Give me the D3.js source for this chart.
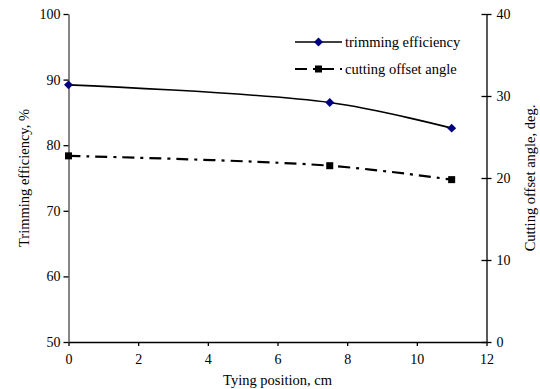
<!DOCTYPE html>
<html>
<head>
<meta charset="utf-8">
<script src="https://cdn.jsdelivr.net/npm/d3@7"></script>
<style>
  body { margin: 0; background: #fff; }
  svg text { font-family: "Liberation Serif", "Times New Roman", serif; fill: #000; }
</style>
</head>
<body>
<div id="container"></div>
<script>
// data
const positions = [0, 7.5, 11]
const trimEff = [89.2, 86.5, 82.6]
const offsetAngle = [22.7, 21.5, 19.8]
const xTicks = [0, 2, 4, 6, 8, 10, 12]
const leftTicks = [50, 60, 70, 80, 90, 100]
const rightTicks = [0, 10, 20, 30, 40]
const seriesNames = ['trimming efficiency', 'cutting offset angle']

const width = 540, height = 389
const plot = { left: 68.5, right: 486.5, top: 14, bottom: 342 }

const svg = d3.select('#container').append('svg')
  .attr('width', width)
  .attr('height', height)

const x = d3.scaleLinear().domain([0, 12]).range([plot.left, plot.right])
const yL = d3.scaleLinear().domain([50, 100]).range([plot.bottom, plot.top])
const yR = d3.scaleLinear().domain([0, 40]).range([plot.bottom, plot.top])

// axes
const axX = svg.append('g')
  .attr('transform', `translate(0 ${plot.bottom})`)
  .call(d3.axisBottom(x).tickValues(xTicks).tickSize(4).tickPadding(8).tickSizeOuter(0))
const axL = svg.append('g')
  .attr('transform', `translate(${plot.left} 0)`)
  .call(d3.axisLeft(yL).tickValues(leftTicks).tickSize(5).tickPadding(3).tickSizeOuter(0))
const axR = svg.append('g')
  .attr('transform', `translate(${plot.right} 0)`)
  .call(d3.axisRight(yR).tickValues(rightTicks).tickSize(5).tickPadding(5).tickSizeOuter(0))

axR.selectAll('.tick line').attr('x1', -5)

;[axX, axL, axR].forEach(a => {
  a.attr('font-family', null).attr('font-size', null)
  a.select('.domain').attr('stroke', '#000').attr('stroke-width', 1.3)
  a.selectAll('.tick line').attr('stroke', '#000').attr('stroke-width', 1.3)
  a.selectAll('.tick text')
    .style('font-size', '14px')
    .attr('fill', '#000')
})
axL.select('.domain').attr('stroke', '#444')

// series lines
const curve = d3.curveCatmullRom.alpha(0.5)
const lineL = d3.line().x(d => x(d[0])).y(d => yL(d[1])).curve(curve)
const lineR = d3.line().x(d => x(d[0])).y(d => yR(d[1])).curve(curve)

const trimData = positions.map((p, i) => [p, trimEff[i]])
const angleData = positions.map((p, i) => [p, offsetAngle[i]])

svg.append('path')
  .datum(angleData)
  .attr('d', lineR)
  .attr('fill', 'none')
  .attr('stroke', '#000')
  .attr('stroke-width', 2.2)
  .attr('stroke-dasharray', '12,6,3,6')

svg.append('path')
  .datum(trimData)
  .attr('d', lineL)
  .attr('fill', 'none')
  .attr('stroke', '#000')
  .attr('stroke-width', 1.6)

svg.selectAll('.sq')
  .data(angleData)
  .enter().append('rect')
  .attr('x', d => x(d[0]) - 3.5)
  .attr('y', d => yR(d[1]) - 3.5)
  .attr('width', 7)
  .attr('height', 7)
  .attr('fill', '#000')

svg.selectAll('.dm')
  .data(trimData)
  .enter().append('path')
  .attr('d', d3.symbol().type(d3.symbolSquare).size(40)())
  .attr('transform', d => `translate(${x(d[0])} ${yL(d[1])}) rotate(45)`)
  .attr('fill', '#000080')

// legend
const lg = svg.append('g')
lg.append('line')
  .attr('x1', 295).attr('x2', 342).attr('y1', 42).attr('y2', 42)
  .attr('stroke', '#000').attr('stroke-width', 1.6)
lg.append('path')
  .attr('d', d3.symbol().type(d3.symbolSquare).size(40)())
  .attr('transform', 'translate(318.5 42) rotate(45)')
  .attr('fill', '#000080')
lg.append('line')
  .attr('x1', 295).attr('x2', 342).attr('y1', 69).attr('y2', 69)
  .attr('stroke', '#000').attr('stroke-width', 2.2)
  .attr('stroke-dasharray', '12,6,3,6')
lg.append('rect')
  .attr('x', 315).attr('y', 65.5).attr('width', 7).attr('height', 7)
  .attr('fill', '#000')
lg.selectAll('text')
  .data(seriesNames)
  .enter().append('text')
  .attr('x', 345)
  .attr('y', (d, i) => 46.5 + i * 27)
  .style('font-size', '14.5px')
  .text(d => d)

// axis titles
svg.append('text')
  .attr('transform', `translate(${(plot.left + plot.right) / 2} 385)`)
  .attr('text-anchor', 'middle')
  .style('font-size', '14.5px')
  .text('Tying position, cm')

svg.append('text')
  .attr('transform', `translate(29 ${(plot.top + plot.bottom) / 2}) rotate(-90)`)
  .attr('text-anchor', 'middle')
  .style('font-size', '14.5px')
  .text('Trimming efficiency, %')

svg.append('text')
  .attr('transform', `translate(535 ${(plot.top + plot.bottom) / 2}) rotate(-90)`)
  .attr('text-anchor', 'middle')
  .style('font-size', '14.5px')
  .text('Cutting offset angle, deg.')
</script>
</body>
</html>
